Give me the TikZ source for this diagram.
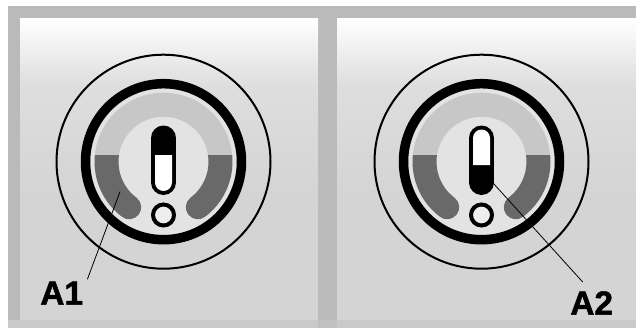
\documentclass[tikz,border=0pt]{standalone}
\usepackage{fontspec}
\setsansfont{Liberation Sans}[BoldFeatures={FakeBold=1.5}]
\usepackage{tikz}
\usetikzlibrary{positioning}
\definecolor{framegray}{gray}{0.73}
\definecolor{footgray}{gray}{0.79}
\definecolor{panelgray}{gray}{0.83}
\definecolor{fadegray}{gray}{0.87}
\definecolor{discgray}{gray}{0.89}
\definecolor{bandgray}{gray}{0.78}
\definecolor{lobegray}{gray}{0.41}
\begin{document}
\begin{tikzpicture}[x=0.02cm, y=-0.02cm, px/.style={line width=#1*0.02cm},
      leader/.style={px=0.8, black}, tag/.style={font=\sffamily\bfseries\fontsize{19}{19}\selectfont, inner sep=0pt}]
      % Page and frame
      \useasboundingbox (0,0) rectangle (636,328);
      \fill[white] (0,0) rectangle (636,328);
      \fill[framegray] (8,6) rectangle (636,328);
      \fill[footgray] (8,320) rectangle (636,328);
      \fill[framegray!60!footgray] (318,320) rectangle (337,328);
      % Panels
      \foreach \xa/\xb in {20/318,337/636} {
        \fill[panelgray] (\xa,18) rectangle (\xb,320);
        \shade[top color=fadegray, bottom color=panelgray] (\xa,85) rectangle (\xb,200);
        \shade[top color=white, bottom color=fadegray] (\xa,18) rectangle (\xb,85.5);
      }
      % Dials: centre, capsule divider
      \foreach \cx/\dial in {163.5/a,481.5/b} {
        \fill[discgray] (\cx,161.7) circle[radius=73];
        \draw[px=2] (\cx,161.7) circle[radius=107];
        \draw[px=9.5] (\cx,161.7) circle[radius=78];
        % Upper band
        \begin{scope}
          \clip (\cx-80,80) rectangle (\cx+80,155);
          \draw[bandgray, px=24] (\cx,161.7) circle[radius=57];
        \end{scope}
        % Lower lobes
        \begin{scope}
          \clip (\cx-80,155) rectangle (\cx+80,240);
          \draw[lobegray, px=24, line cap=round] (\cx,161.7) ++(127:57) arc[start angle=127, end angle=200, radius=57];
          \draw[lobegray, px=24, line cap=round] (\cx,161.7) ++(53:57) arc[start angle=53, end angle=-20, radius=57];
        \end{scope}
        % Small circle
        \draw[fill=discgray!60!white, px=4] (\cx,215) circle[radius=10.5];
        % Capsule
        \draw[px=25, line cap=round] (\cx,138) -- (\cx,182.5);
      }
      % Capsule windows
      \fill[white] (155,155) -- (172,155) -- (172,182.5) arc[start angle=0, end angle=180, radius=8.5] -- cycle;
      \fill[white] (473,165) -- (490,165) -- (490,138) arc[start angle=0, end angle=-180, radius=8.5] -- cycle;
      % Labels
      \node[tag, anchor=south west] (tagone) at (40,305) {A1};
      \node[tag, anchor=south west] (tagtwo) at (570,315) {A2};
      \coordinate (lobepoint) at (120,191.7);
      \coordinate (capsulepoint) at (493.3,183.3);
      \draw[leader] (tagone.north east) ++(4,-2) -- (lobepoint);
      \draw[leader] (tagtwo.north) ++(-9,-9) -- (capsulepoint);
    \end{tikzpicture}
\end{document}
